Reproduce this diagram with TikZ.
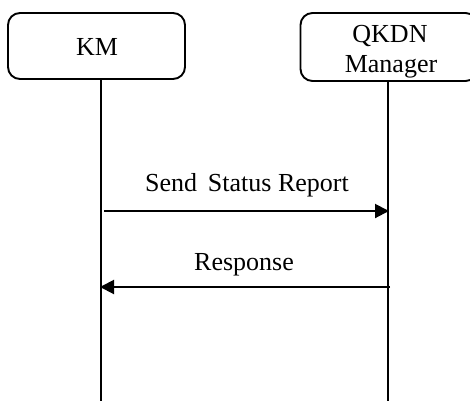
\documentclass[tikz,border=0pt]{standalone}
\usepackage{fontspec}
\setmainfont{Liberation Serif}
\usetikzlibrary{arrows.meta}
\begin{document}
\begin{tikzpicture}[x=1pt,y=-1pt,
  actor/.style={draw=black,line width=1.9pt,rounded corners=12pt},
  lifeline/.style={draw=black,line width=1.7pt},
  msg/.style={draw=black,line width=2pt,-{Triangle[length=14pt,width=14pt]}},
  lbl/.style={font=\fontsize{26}{30}\selectfont,inner sep=0pt,anchor=base},
  every node/.style={text=black}]
\useasboundingbox (0,0) rectangle (470,400);
\clip (0,0) rectangle (470,400);
% actor boxes
\node[actor,minimum width=177pt,minimum height=66pt,inner sep=0pt] (km) at (96.5,46) {};
\node[lbl] (kmtext) at (97,55) {KM};
\node[actor,minimum width=177pt,minimum height=68pt,inner sep=0pt] (qk) at (389,47) {};
\node[lbl] (qktext1) at (390,42) {QKDN};
\node[lbl] (qktext2) at (391,72) {Manager};
% lifelines
\coordinate (kmtop) at (101,79);
\coordinate (kmbot) at (101,401);
\coordinate (qktop) at (388,81);
\coordinate (qkbot) at (388,401);
\draw[lifeline] (kmtop) -- (kmbot);
\draw[lifeline] (qktop) -- (qkbot);
% messages
\coordinate (m1s) at (104,211);
\coordinate (m1e) at (389,211);
\coordinate (m2s) at (390,287);
\coordinate (m2e) at (100,287);
\draw[msg] (m1s) -- (m1e);
\draw[msg] (m2s) -- (m2e);
\node[lbl] (l1) at (247,191) {Send\ \,Status Report};
\node[lbl] (l2) at (244,270) {Response};
\end{tikzpicture}
\end{document}
